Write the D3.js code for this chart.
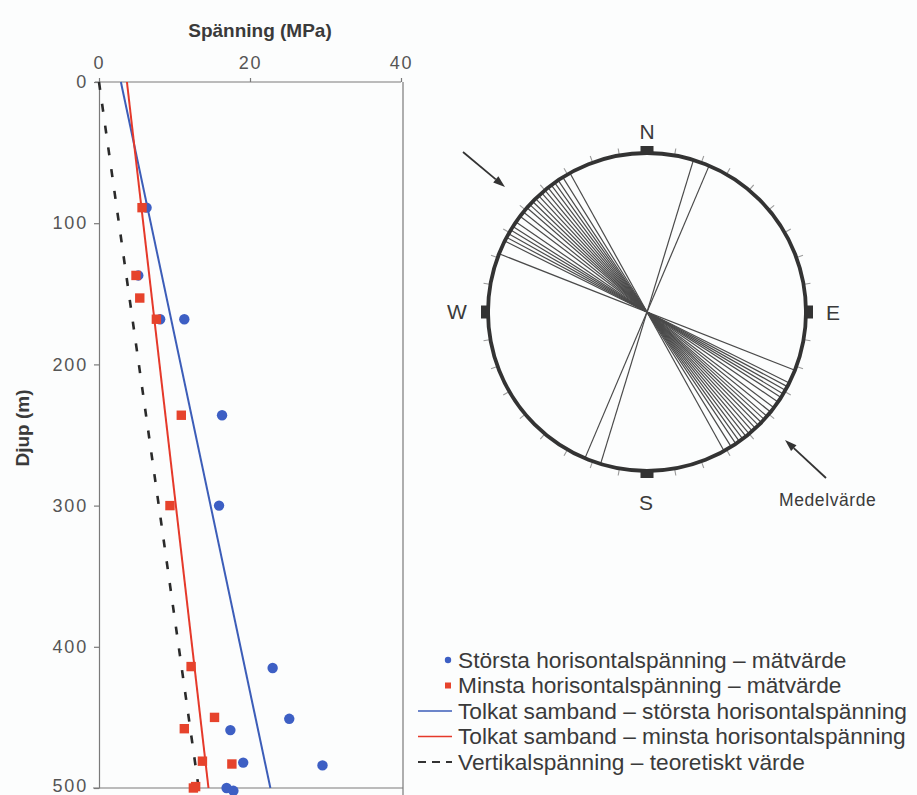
<!DOCTYPE html>
<html><head><meta charset="utf-8">
<script src="https://cdn.jsdelivr.net/npm/d3@7"></script>
<style>
html,body{margin:0;padding:0;background:#fcfdfd;}
svg{display:block;font-family:"Liberation Sans",Arial,Helvetica,sans-serif;}
</style></head>
<body>
<svg id="c" width="917" height="795"></svg>
<script>
// ---- data ----
const depthMax = [89, 137, 168, 168, 236, 300, 415, 451, 459, 482, 484, 500, 502];
const sigmaHMax = [6.3, 5.2, 8.1, 11.3, 16.3, 15.9, 23.0, 25.2, 17.4, 19.1, 29.6, 16.9, 17.8];
const depthMin = [89, 137, 153, 168, 236, 300, 414, 450, 458, 481, 483, 499, 500];
const sigmaHMin = [5.7, 4.9, 5.4, 7.6, 10.9, 9.4, 12.2, 15.3, 11.3, 13.7, 17.6, 12.8, 12.5];
const lineDepth = [0, 500];
const fitMax = [2.9, 22.7];
const fitMin = [3.7, 14.5];
const sigmaV = [0, 13.2];
const xTicks = [0, 20, 40];
const yTicks = [0, 100, 200, 300, 400, 500];
const xTitle = "Spänning (MPa)";
const yTitle = "Djup (m)";
// stress orientations (degrees from north, clockwise)
const azimuths = [17, 23, 111.5, 116.5, 118, 119.5, 121, 122.5, 124.5, 127, 129, 131, 132.5, 134, 135.5, 137, 138.5, 140, 141.5, 143, 144.5, 146, 148, 151];
const cardinals = [{l:"N",a:0},{l:"E",a:90},{l:"S",a:180},{l:"W",a:270}];
const legendItems = [
  {t:"Största horisontalspänning – mätvärde", k:"dot"},
  {t:"Minsta horisontalspänning – mätvärde", k:"sq"},
  {t:"Tolkat samband – största horisontalspänning", k:"blue"},
  {t:"Tolkat samband – minsta horisontalspänning", k:"red"},
  {t:"Vertikalspänning – teoretiskt värde", k:"dash"}
];
const meanLabel = "Medelvärde";

const BLUE = "#3d5fc4", RED = "#e6432c", BLUEL = "#3c5db8", REDL = "#e5392a", TXT = "#3a3a3a", AX = "#7a7a7a";

const svg = d3.select("#c");
const x = d3.scaleLinear().domain([0, 40]).range([99, 401]);
const y = d3.scaleLinear().domain([0, 500]).range([82, 788]);

// frame lines
svg.append("line").attr("x1", 403).attr("x2", 403).attr("y1", 82).attr("y2", 795).attr("stroke", AX).attr("stroke-width", 1.2);
svg.append("line").attr("x1", 93).attr("x2", 403).attr("y1", y(500)).attr("y2", y(500)).attr("stroke", AX).attr("stroke-width", 1.2);

const gx = svg.append("g").attr("transform", `translate(0,${y(0)})`)
  .call(d3.axisTop(x).tickValues(xTicks).tickSize(4).tickPadding(9).tickSizeOuter(0));
const gy = svg.append("g").attr("transform", `translate(${x(0)},0)`)
  .call(d3.axisLeft(y).tickValues(yTicks).tickSize(5).tickPadding(6).tickSizeOuter(0));
[gx, gy].forEach(g => {
  g.select(".domain").attr("stroke", AX).attr("stroke-width", 1.2);
  g.selectAll(".tick line").attr("stroke", AX).attr("stroke-width", 1.2);
  g.selectAll(".tick text").attr("fill", "#555").attr("font-size", 18).attr("letter-spacing", 1.8)
    .attr("font-family", "'Liberation Sans',Arial,sans-serif");
});
gy.selectAll(".tick text").filter(d => d === 500).attr("dy", "0.22em");
gx.select(".domain").attr("d", `M${x(0)-4},0H${x(40)}`);

svg.append("text").attr("x", 260).attr("y", 37).attr("text-anchor", "middle")
  .attr("font-size", 19).attr("font-weight", "bold").attr("fill", TXT).text(xTitle);
svg.append("text").attr("transform", "translate(29,428) rotate(-90)").attr("text-anchor", "middle")
  .attr("font-size", 19).attr("font-weight", "bold").attr("fill", TXT).text(yTitle);

// lines
const ln = (vals) => d3.line().x((d, i) => x(vals[i])).y(d => y(d))(lineDepth);
svg.append("path").attr("d", ln(sigmaV)).attr("fill", "none").attr("stroke", "#2a2a2a").attr("stroke-width", 2.6).attr("stroke-dasharray", "8,14");
svg.append("path").attr("d", ln(fitMax)).attr("fill", "none").attr("stroke", BLUEL).attr("stroke-width", 2);
svg.append("path").attr("d", ln(fitMin)).attr("fill", "none").attr("stroke", REDL).attr("stroke-width", 2);

// points
svg.append("g").selectAll("circle").data(depthMax).join("circle")
  .attr("cx", (d, i) => x(sigmaHMax[i])).attr("cy", d => y(d)).attr("r", 5.2).attr("fill", BLUE);
svg.append("g").selectAll("rect").data(depthMin).join("rect")
  .attr("x", (d, i) => x(sigmaHMin[i]) - 4.7).attr("y", d => y(d) - 4.7).attr("width", 9.4).attr("height", 9.4).attr("fill", RED);

// ---- rose diagram ----
const cx = 647, cy = 312, R = 159;
const pt = (a, r) => [cx + r * Math.sin(a * Math.PI / 180), cy - r * Math.cos(a * Math.PI / 180)];
const rose = svg.append("g");
rose.selectAll("line.az").data(azimuths).join("line").attr("class", "az")
  .attr("x1", d => pt(d, R)[0]).attr("y1", d => pt(d, R)[1])
  .attr("x2", d => pt(d + 180, R)[0]).attr("y2", d => pt(d + 180, R)[1])
  .attr("stroke", "#4a4a4a").attr("stroke-width", 1.2);
const tickAngles = d3.range(0, 360, 10).filter(a => a % 90 !== 0);
rose.selectAll("line.tk").data(tickAngles).join("line").attr("class", "tk")
  .attr("x1", d => pt(d, R + 1)[0]).attr("y1", d => pt(d, R + 1)[1])
  .attr("x2", d => pt(d, R + 7)[0]).attr("y2", d => pt(d, R + 7)[1])
  .attr("stroke", "#9a9a9a").attr("stroke-width", 1.1);
rose.append("circle").attr("cx", cx).attr("cy", cy).attr("r", R).attr("fill", "none").attr("stroke", "#333").attr("stroke-width", 3.8);
rose.selectAll("rect.cd").data(cardinals).join("rect").attr("class", "cd")
  .attr("x", -6.5).attr("y", -R - 7).attr("width", 13).attr("height", 9).attr("fill", "#333")
  .attr("transform", d => `translate(${cx},${cy}) rotate(${d.a})`);
const lblPos = {N:[647,139], E:[833,320], S:[646,510], W:[457,319]};
rose.selectAll("text.cd").data(cardinals).join("text").attr("class", "cd")
  .attr("x", d => lblPos[d.l][0]).attr("y", d => lblPos[d.l][1]).attr("text-anchor", "middle")
  .attr("font-size", 21).attr("fill", TXT).text(d => d.l);

// arrows
function arrow(x1, y1, x2, y2) {
  const ang = Math.atan2(y2 - y1, x2 - x1), L = 12, W = 4;
  const bx = x2 - L * Math.cos(ang), by = y2 - L * Math.sin(ang);
  svg.append("line").attr("x1", x1).attr("y1", y1).attr("x2", bx).attr("y2", by).attr("stroke", "#333").attr("stroke-width", 1.8);
  svg.append("path").attr("d", `M${x2},${y2}L${bx - W * Math.sin(ang)},${by + W * Math.cos(ang)}L${bx + W * Math.sin(ang)},${by - W * Math.cos(ang)}Z`).attr("fill", "#333");
}
arrow(463, 152, 505, 187);
arrow(826, 478, 785, 440);
svg.append("text").attr("x", 779).attr("y", 506).attr("font-size", 17.5).attr("fill", TXT).attr("letter-spacing", 0.6).text(meanLabel);

// ---- legend ----
const lg = svg.append("g");
const ly0 = 660, ldy = 25.5;
legendItems.forEach((it, i) => {
  const yy = ly0 + i * ldy;
  lg.append("text").attr("x", 458).attr("y", yy + 7.8).attr("font-size", 22.7).attr("fill", TXT).text(it.t);
  if (it.k === "dot") lg.append("circle").attr("cx", 448).attr("cy", yy).attr("r", 3.2).attr("fill", BLUE);
  if (it.k === "sq") lg.append("rect").attr("x", 445).attr("y", yy - 3).attr("width", 6).attr("height", 6).attr("fill", RED);
  if (it.k === "blue") lg.append("line").attr("x1", 418).attr("x2", 452).attr("y1", yy).attr("y2", yy).attr("stroke", BLUEL).attr("stroke-width", 1.6);
  if (it.k === "red") lg.append("line").attr("x1", 418).attr("x2", 452).attr("y1", yy).attr("y2", yy).attr("stroke", REDL).attr("stroke-width", 1.6);
  if (it.k === "dash") lg.append("line").attr("x1", 418).attr("x2", 452).attr("y1", yy).attr("y2", yy).attr("stroke", "#333").attr("stroke-width", 1.8).attr("stroke-dasharray", "8,6");
});
</script>
</body></html>
